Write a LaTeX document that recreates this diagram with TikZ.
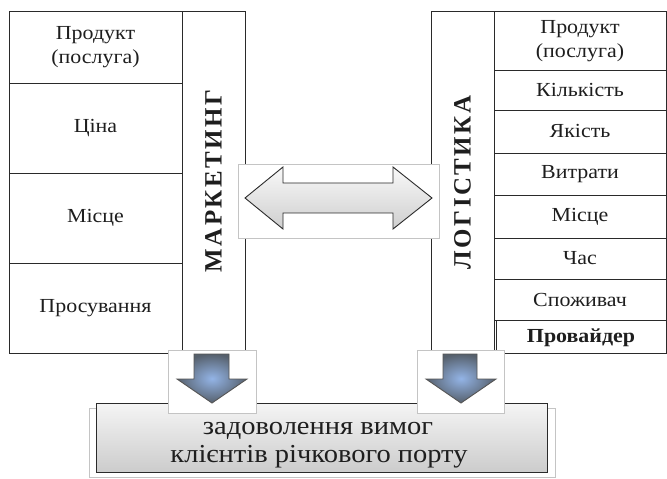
\documentclass[tikz,border=0pt]{standalone}
\usepackage{fontspec}
\setmainfont{Liberation Serif}
\newfontfamily\widefont[FakeStretch=1.1]{Liberation Serif}
\definecolor{linec}{HTML}{2A2A2A}
\definecolor{framec}{HTML}{C4C4C4}
\definecolor{textc}{HTML}{1E1E1E}
\definecolor{arrdark}{HTML}{56606C}
\definecolor{arrlight}{HTML}{93B4E6}
\newcommand{\lsp}{\hspace{2.5bp}}
\begin{document}
\begin{tikzpicture}[x=1bp,y=-1bp,
  cell/.style={draw=linec,line width=0.9bp},
  lbl/.style={font=\widefont\fontsize{20}{24}\selectfont,align=center,text=textc,inner sep=0pt},
  glbl/.style={font=\widefont\fontsize{26}{28}\selectfont,text=textc,inner sep=0pt,anchor=base},
  vlbl/.style={font=\fontsize{25}{26}\selectfont\bfseries,text=textc,rotate=90,inner sep=0pt},
  abox/.style={draw=framec,fill=white,line width=0.8bp},
  darrow/.style={draw=linec,line width=0.9bp,top color=gray!5,bottom color=gray!38},
  varrow/.style={draw=linec!80,line width=0.9bp,inner color=arrlight,outer color=arrdark}]
\useasboundingbox (0,0) rectangle (667,479);
% left table
\draw[cell] (9,11) rectangle (182,353);
\draw[cell] (9,83) -- (182,83) (9,173) -- (182,173) (9,263) -- (182,263);
\draw[cell] (182,11) rectangle (245,352);
% right table
\draw[cell] (431,11) rectangle (494,352);
\draw[cell] (494,11) rectangle (666,320);
\draw[cell] (494,70) -- (666,70) (494,110) -- (666,110) (494,153) -- (666,153)
            (494,195) -- (666,195) (494,238) -- (666,238) (494,279) -- (666,279);
\draw[cell] (496,320) rectangle (666,353);
% left labels
\node[lbl] (lp) at (95.5,47) {Продукт\\(послуга)};
\node[lbl] (lc) at (95.5,128) {Ціна};
\node[lbl] (lm) at (95.5,218) {Місце};
\node[lbl] (lpr) at (95.5,308) {Просування};
% right labels
\node[lbl] (rp) at (580,41) {Продукт\\(послуга)};
\node[lbl] (rk) at (580,90) {Кількість};
\node[lbl] (rq) at (580,131.5) {Якість};
\node[lbl] (rv) at (580,174) {Витрати};
\node[lbl] (rm) at (580,216.5) {Місце};
\node[lbl] (rt) at (580,258.5) {Час};
\node[lbl] (rs) at (580,299.5) {Споживач};
\node[lbl,font=\widefont\fontsize{20}{24}\selectfont\bfseries] (rpr) at (581,337.5) {Провайдер};
% vertical titles
\node[vlbl] (mk) at (213.5,181) {М\lsp А\lsp Р\lsp К\lsp Е\lsp Т\lsp И\lsp Н\lsp Г};
\node[vlbl] (lg) at (462.5,182.5) {Л\lsp О\lsp Г\lsp І\lsp С\lsp Т\lsp И\lsp К\lsp А};
% double arrow
\draw[abox] (238,164) rectangle (439,238);
\draw[darrow] (245,198) -- (283,167) -- (283,183) -- (393,183) -- (393,167) -- (432,198)
   -- (393,229) -- (393,213) -- (283,213) -- (283,229) -- cycle;
% bottom box
\draw[draw=framec,line width=0.8bp] (89,408) rectangle (555,477);
\draw[draw=linec,line width=1bp,top color=gray!8,bottom color=gray!40] (96,403) rectangle (547,472);
\node[glbl] (goal1) at (318,434) {задоволення вимог};
\node[glbl] (goal2) at (319,462) {клієнтів річкового порту};
% down arrows
\draw[abox] (168,350) rectangle (256,413);
\draw[varrow] (194,354) -- (229,354) -- (229,379) -- (247,379) -- (212,403) -- (177,379) -- (194,379) -- cycle;
\draw[abox] (417,350) rectangle (504,413);
\draw[varrow] (443,354) -- (477,354) -- (477,379) -- (496,379) -- (461,403) -- (426,379) -- (443,379) -- cycle;
\end{tikzpicture}
\end{document}
